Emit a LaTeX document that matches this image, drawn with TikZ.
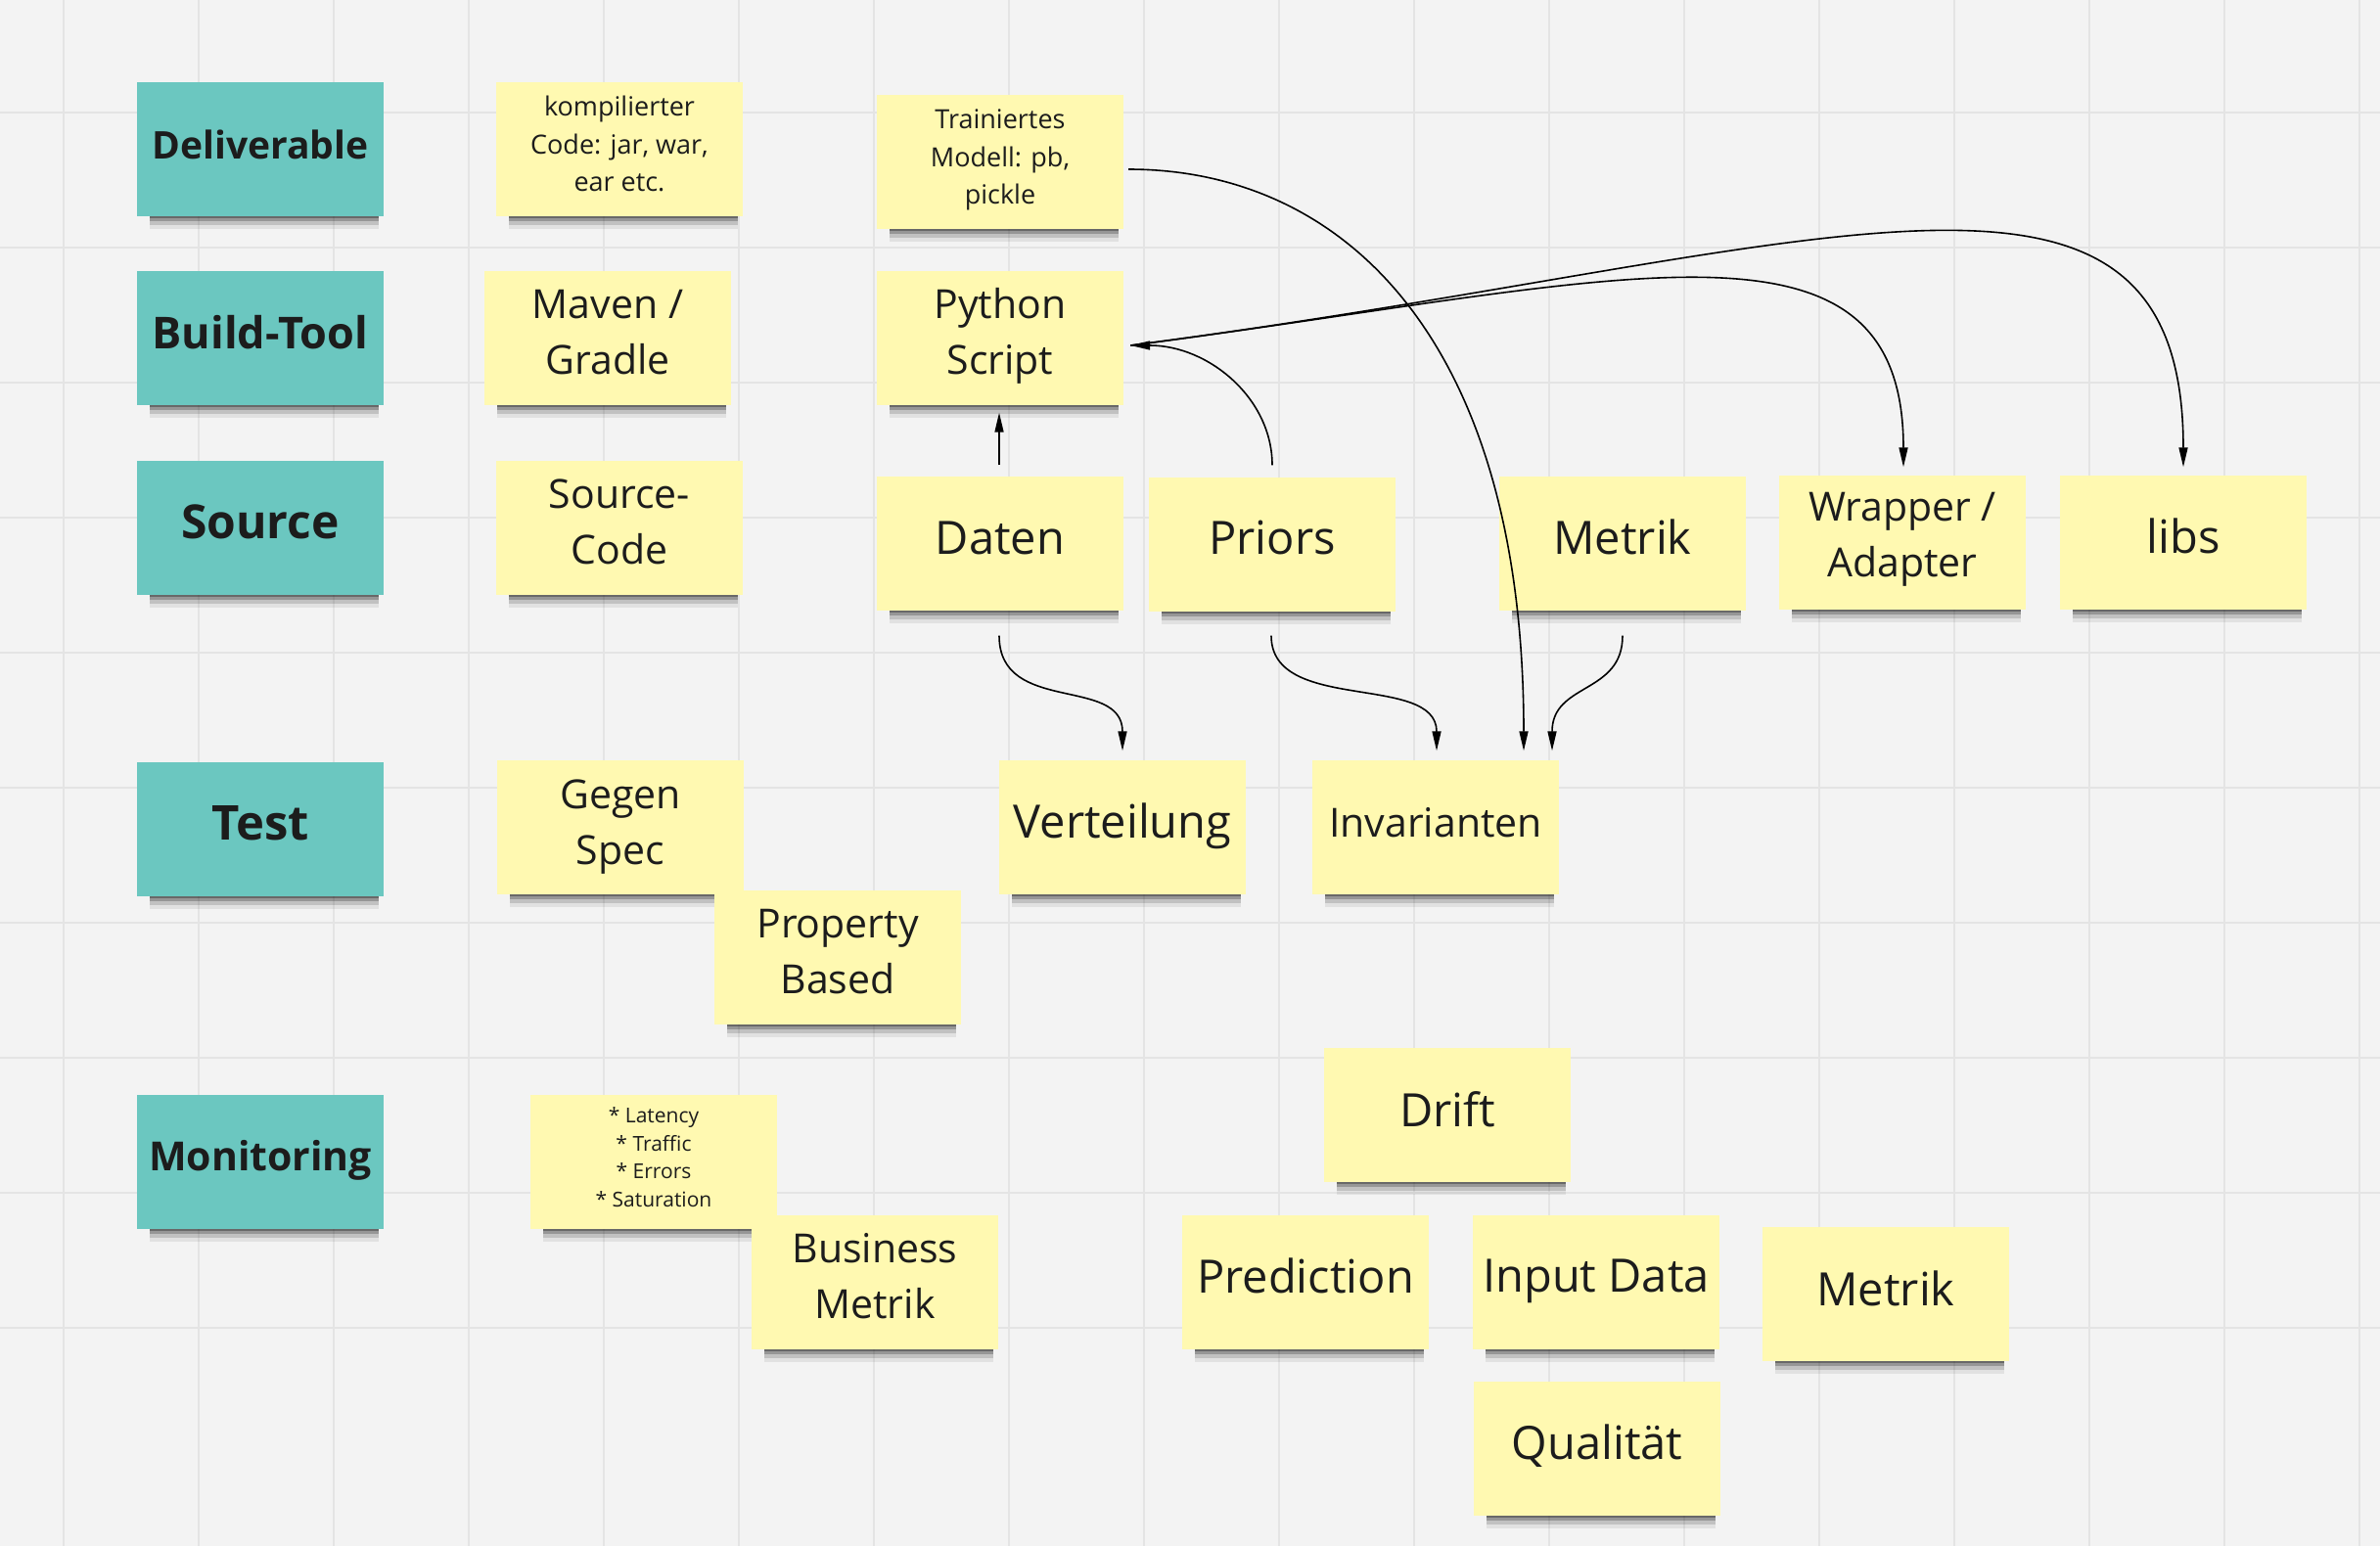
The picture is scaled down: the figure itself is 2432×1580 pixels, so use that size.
\documentclass[tikz,border=0pt]{standalone}
\usepackage{fontspec}
\setmainfont{Open Sans}
\usetikzlibrary{arrows.meta,calc,shadows}
\definecolor{bg}{HTML}{F3F3F3}
\definecolor{gridc}{HTML}{E4E4E4}
\definecolor{tealn}{HTML}{6BC7C0}
\definecolor{yeln}{HTML}{FFF9B1}
\definecolor{ink}{HTML}{1C1C1C}
\tikzset{
  gridline/.style={draw=gridc, line width=2pt},
  sh/.style={
    general shadow={fill=black, opacity=.07, shadow scale=.93, shadow xshift=4pt, shadow yshift=-20pt},
    general shadow={fill=black, opacity=.14, shadow scale=.93, shadow xshift=4pt, shadow yshift=-15pt},
    general shadow={fill=black, opacity=.22, shadow scale=.93, shadow xshift=4pt, shadow yshift=-11pt},
    general shadow={fill=black, opacity=.30, shadow scale=.93, shadow xshift=4pt, shadow yshift=-8pt}},
  notebase/.style={rectangle, inner sep=0pt, minimum width=252pt, minimum height=137pt, sh},
  tealbox/.style={notebase, fill=tealn},
  yelbox/.style={notebase, fill=yeln},
  txt/.style={text=ink, align=center, inner sep=0pt,
    execute at begin node=\strut, execute at end node=\strut},
  fbig/.style={font=\fontsize{47}{64}\selectfont},
  fmid/.style={font=\fontsize{41}{57}\selectfont},
  fsmall/.style={font=\fontsize{27}{38.5}\selectfont},
  ftiny/.style={font=\fontsize{21}{28.5}\selectfont},
  fbold/.style={font=\bfseries\fontsize{#1}{#1}\selectfont},
  conn/.style={draw=black, line width=1.6pt, -{Triangle[length=20pt,width=9pt]}}
}
\newcommand\sticky[6]{%
  \node[#2] (#1) at (#3) {};
  \node[txt,#4] (#1-t) at ($(#1.center)+(0,#5)$) {#6};}
\begin{document}
\begin{tikzpicture}[x=1pt,y=-1pt]
\fill[bg] (0,0) rectangle (2432,1580);
\useasboundingbox (0,0) rectangle (2432,1580);
\foreach \gx in {65,203,...,2411} \draw[gridline] (\gx,0) -- (\gx,1580);
\foreach \gy in {115,253,...,1493} \draw[gridline] (0,\gy) -- (2432,\gy);

% category labels
\sticky{deliv}{tealbox}{266,152}{fbold=39}{1.5}{Deliverable}
\sticky{build}{tealbox}{266,345}{fbold=45}{1}{Build-Tool}
\sticky{source}{tealbox}{266,539}{fbold=48}{1.5}{Source}
\sticky{test}{tealbox}{266,847}{fbold=49}{1.5}{Test}
\sticky{monit}{tealbox}{266,1187}{fbold=41}{0.5}{Monitoring}

% classic software column
\sticky{kompil}{yelbox}{633,152}{fsmall}{1}{kompilierter\\Code: jar, war,\\ear etc.}
\sticky{maven}{yelbox}{621,345}{fmid}{3}{Maven /\\Gradle}
\sticky{srccode}{yelbox}{633,539}{fmid}{3}{Source-\\Code}
\sticky{gegen}{yelbox}{634,845}{fmid}{3.5}{Gegen\\Spec}
\sticky{property}{yelbox}{856,978}{fmid}{2.5}{Property\\Based}
\sticky{latency}{yelbox}{668,1187}{ftiny}{0}{* Latency\\* Traffic\\* Errors\\* Saturation}
\sticky{business}{yelbox}{894,1310}{fmid}{2.5}{Business\\Metrik}

% ML column
\sticky{trainiert}{yelbox}{1022,165}{fsmall}{1}{Trainiertes\\Modell: pb,\\pickle}
\sticky{python}{yelbox}{1022,345}{fmid}{2}{Python\\Script}
\sticky{daten}{yelbox}{1022,555}{fbig}{-1}{Daten}
\sticky{priors}{yelbox}{1300,556}{fbig}{-2}{Priors}
\sticky{metrik}{yelbox}{1658,555}{fbig}{-1}{Metrik}
\sticky{wrapper}{yelbox}{1944,554}{fmid}{1}{Wrapper /\\Adapter}
\sticky{libs}{yelbox}{2231,554}{fbig}{-1}{libs}
\sticky{verteil}{yelbox}{1147,845}{fbig}{-1}{Verteilung}
\sticky{invar}{yelbox}{1467,845}{fmid}{-1}{Invarianten}
\sticky{drift}{yelbox}{1479,1139}{fbig}{0}{Drift}
\sticky{predict}{yelbox}{1334,1310}{fbig}{-1}{Prediction}
\sticky{input}{yelbox}{1631,1310}{fbig}{-2}{Input Data}
\sticky{metrikb}{yelbox}{1927,1322}{fbig}{0}{Metrik}
\sticky{qual}{yelbox}{1632,1480}{fbig}{-1}{Qualität}

% connectors
\draw[conn] ($(daten.north)+(-1,-11)$) -- ($(python.south)+(-1,8)$);
\draw[conn] ($(priors.north)+(0,-12)$) .. controls +(0,-68) and +(80,0) .. ($(python.east)+(7,8)$);
\draw[conn] ($(python.east)+(7,8)$) .. controls +(500,-65) and +(0,-280) .. ($(wrapper.north)+(1,-8)$);
\draw[conn] ($(python.east)+(7,8)$) .. controls +(700,-91) and +(0,-380) .. ($(libs.north)+(0,-8)$);
\draw[conn] ($(trainiert.east)+(5,8)$) .. controls +(220,0) and +(0,-420) .. ($(invar.north)+(90,-9)$);
\draw[conn] ($(daten.south)+(-1,26)$) .. controls +(0,81) and +(0,-77) .. ($(verteil.north)+(0,-9)$);
\draw[conn] ($(priors.south)+(-1,25)$) .. controls +(0,80) and +(0,-80) .. ($(invar.north)+(1,-9)$);
\draw[conn] ($(metrik.south)+(0,26)$) .. controls +(0,60) and +(0,-70) .. ($(invar.north)+(119,-9)$);
\end{tikzpicture}
\end{document}
